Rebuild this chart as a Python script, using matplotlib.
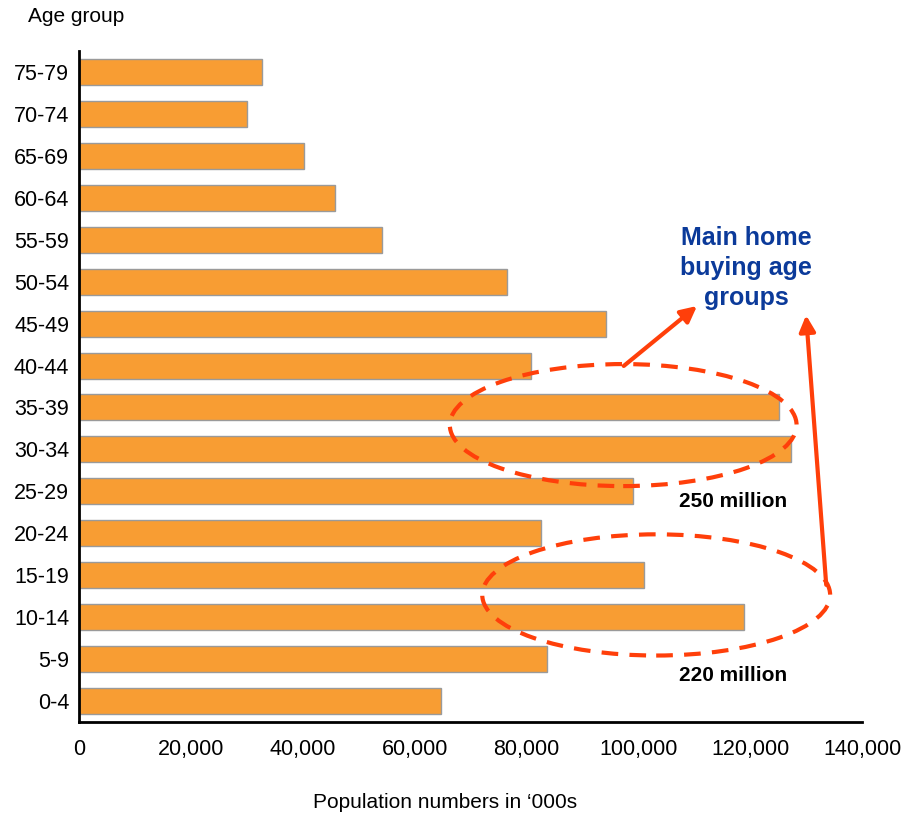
import matplotlib.pyplot as plt
from matplotlib.patches import Ellipse

plt.rcParams['font.family'] = ['Liberation Sans', 'DejaVu Sans']

# Age groups, bottom to top
ages = ['0-4', '5-9', '10-14', '15-19', '20-24', '25-29', '30-34', '35-39',
        '40-44', '45-49', '50-54', '55-59', '60-64', '65-69', '70-74', '75-79']
# Population in '000s
pop = [64700, 83600, 118900, 101100, 82600, 99000, 127300, 125200,
       80800, 94200, 76500, 54100, 45800, 40300, 30100, 32700]

xticks = [0, 20000, 40000, 60000, 80000, 100000, 120000, 140000]
xtick_labels = ['0', '20,000', '40,000', '60,000', '80,000', '100,000', '120,000', '140,000']

red = '#FF3F0A'

fig = plt.figure(figsize=(9.07, 8.16), dpi=100)
ax = fig.add_axes([0.0871, 0.1152, 0.8633, 0.8223])

ax.barh(range(len(ages)), pop, height=0.62, color='#F89D33',
        edgecolor='#9A9A9A', linewidth=1.0)

ax.set_xlim(0, 140000)
ax.set_ylim(-0.5, len(ages) - 0.5)
ax.set_yticks(range(len(ages)))
ax.set_yticklabels(ages)
ax.set_xticks(xticks)
ax.set_xticklabels(xtick_labels)
ax.tick_params(axis='both', length=0, labelsize=15.5)
ax.tick_params(axis='y', pad=7)
ax.tick_params(axis='x', pad=12)

for s in ['top', 'right']:
    ax.spines[s].set_visible(False)
for s in ['left', 'bottom']:
    ax.spines[s].set_linewidth(2)
    ax.spines[s].set_color('black')

fig.text(28 / 907, 1 - 17 / 816, 'Age group', fontsize=15, va='center', ha='left')
fig.text(445 / 907, 1 - 802 / 816, "Population numbers in \u2018000s", fontsize=15,
         va='center', ha='center')

# dashed ellipses
for cx, cy, w, h in [(97300, 6.58, 62000, 2.91), (103200, 2.53, 62200, 2.89)]:
    e = Ellipse((cx, cy), w, h, fill=False, edgecolor=red, linewidth=3,
                linestyle=(0, (4, 2.7)), clip_on=False, zorder=5)
    ax.add_patch(e)

# arrows
ax.annotate('', xy=(110500, 9.42), xytext=(97400, 7.99),
            arrowprops=dict(arrowstyle='-|>', color=red, lw=3,
                            mutation_scale=24, shrinkA=0, shrinkB=0),
            annotation_clip=False, zorder=6)
ax.annotate('', xy=(130000, 9.2), xytext=(133600, 2.77),
            arrowprops=dict(arrowstyle='-|>', color=red, lw=3,
                            mutation_scale=24, shrinkA=0, shrinkB=0),
            annotation_clip=False, zorder=6)

ax.text(119300, 10.33, 'Main home\nbuying age\ngroups', fontsize=18, fontweight='bold',
        color='#0B3A9A', ha='center', va='center', linespacing=1.3)
ax.text(116900, 4.75, '250 million', fontsize=15, fontweight='bold',
        ha='center', va='center')
ax.text(116900, 0.6, '220 million', fontsize=15, fontweight='bold',
        ha='center', va='center')

fig.savefig('out.png', dpi=100)
